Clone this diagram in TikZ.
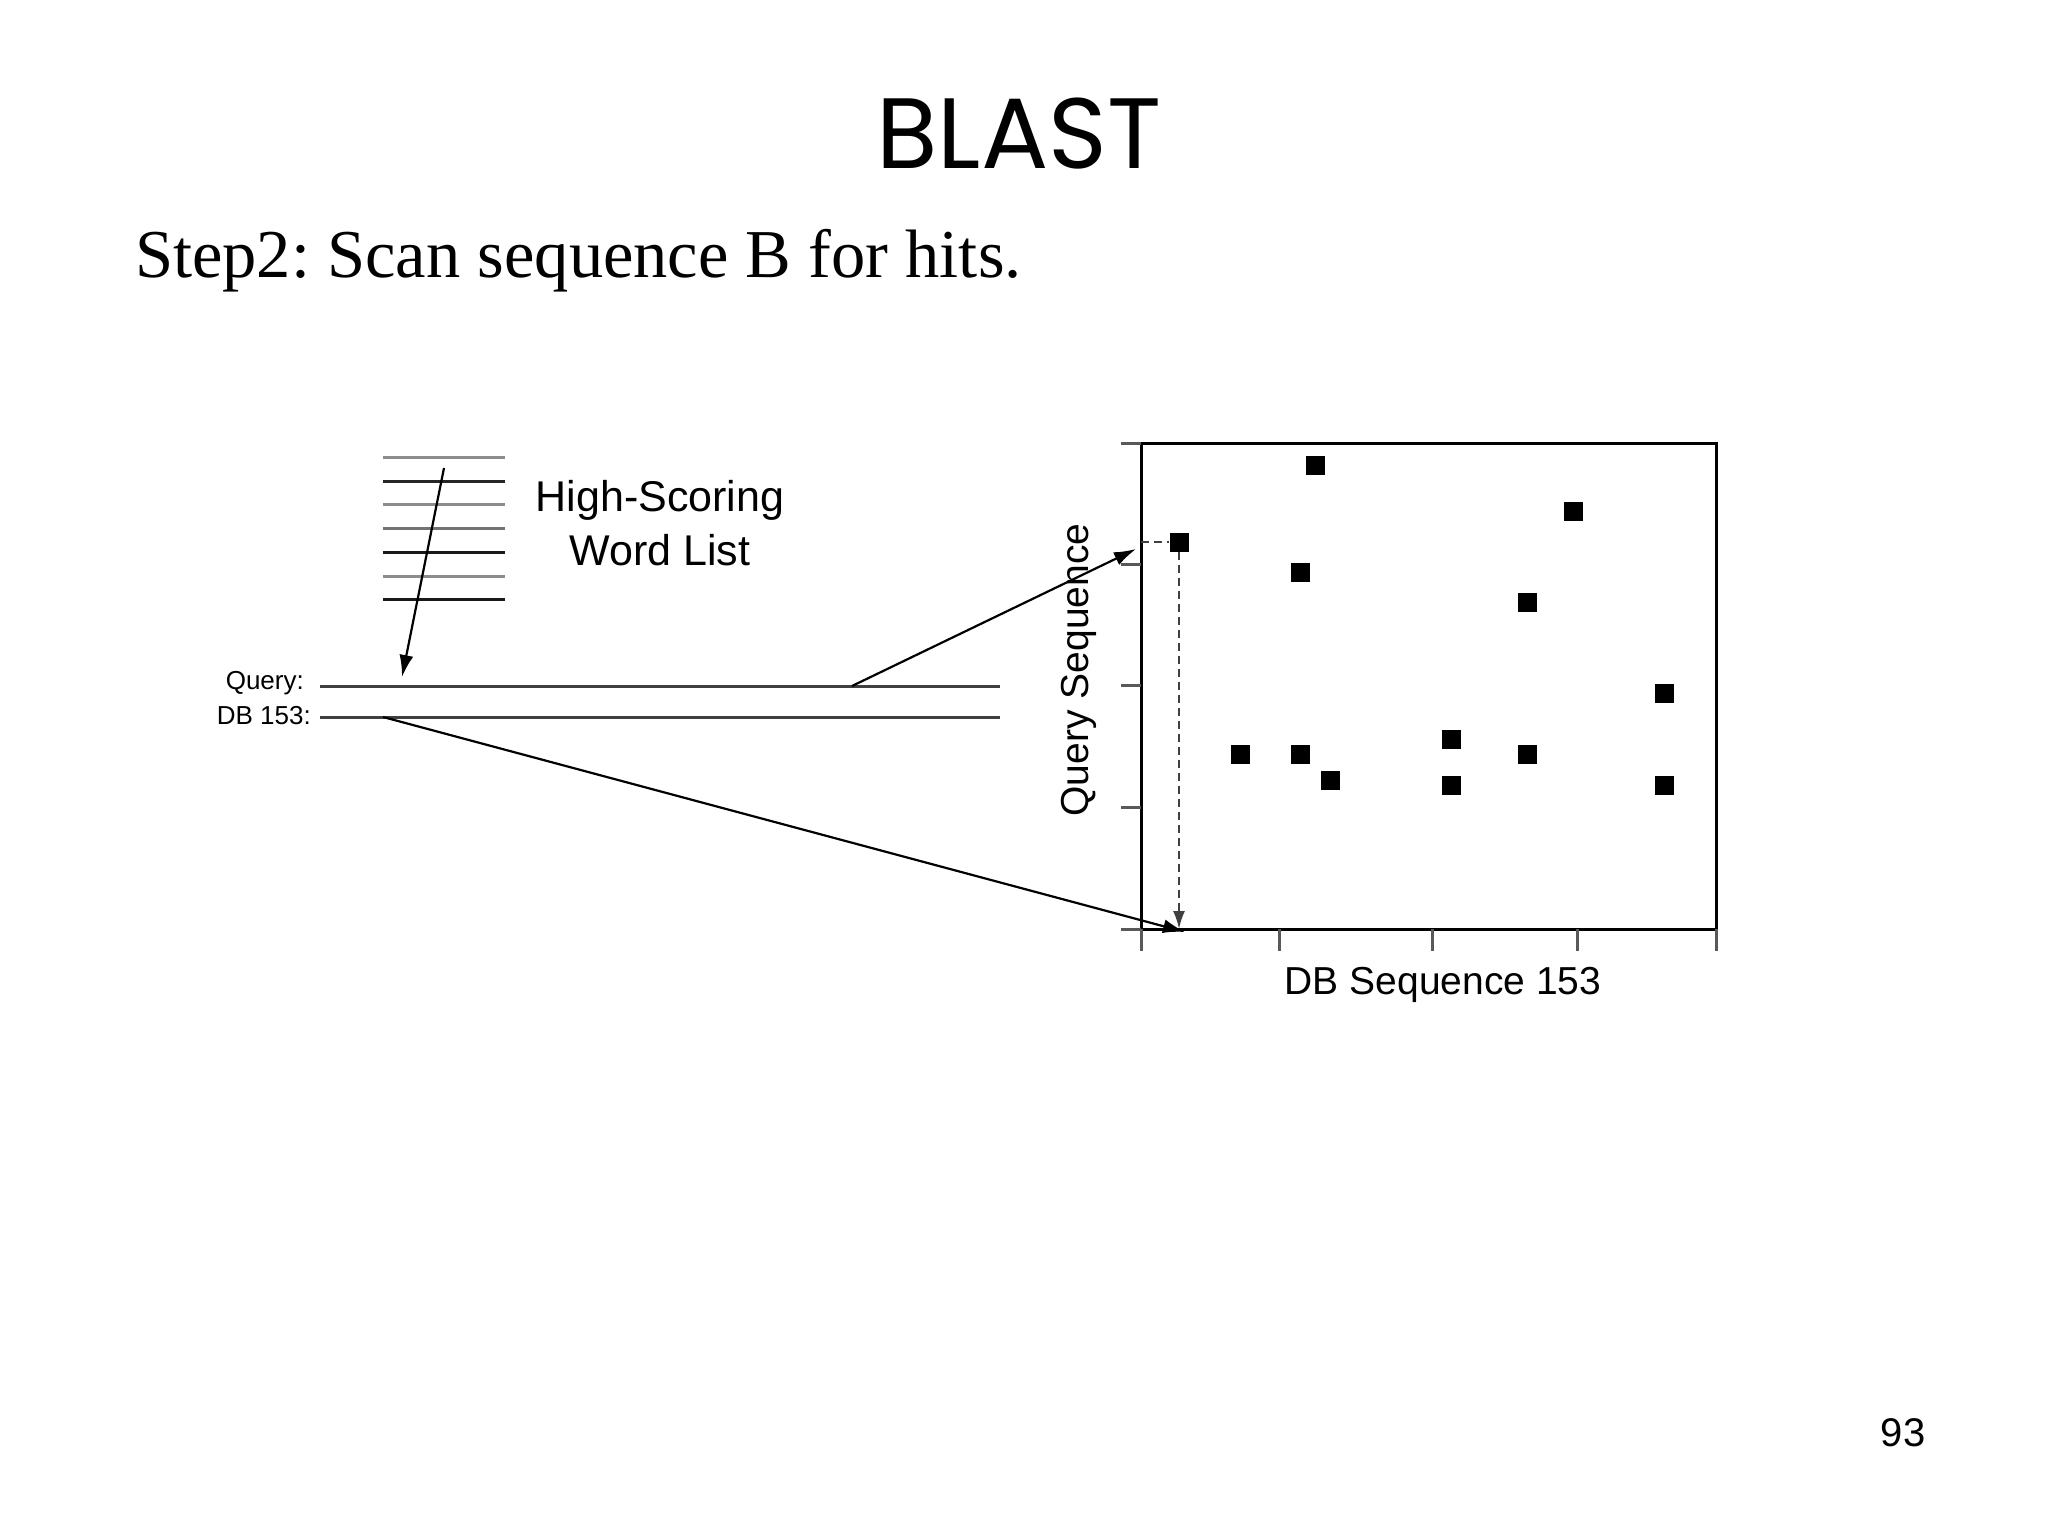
\documentclass[tikz,border=0pt]{standalone}
\usepackage{fontspec}
\setmainfont{Liberation Serif}
\newfontfamily\lsans{Liberation Sans}
\newfontfamily\ttl{Poppins}
\usetikzlibrary{arrows.meta}
\begin{document}
\frenchspacing
\begin{tikzpicture}[x=1pt,y=-1pt,
  wl/.style={line width=3pt},
  seq/.style={line width=3pt, black!75},
  arr/.style={line width=2.2pt,-{Latex[length=22pt,width=14pt]}},
  hit/.style={fill=black, minimum size=19pt, inner sep=0pt},
  tick/.style={line width=3pt, black!65},
  lab/.style={font=\lsans\fontsize{39}{46}\selectfont, inner sep=0pt}]
\useasboundingbox[fill=white] (0,0) rectangle (2048,1536);
\node[font=\ttl\fontsize{100}{110}\selectfont, inner sep=0pt] (title) at (1019,134) {BLAST};
\node[anchor=base west, font=\fontsize{68.5}{80}\selectfont, inner sep=0pt] (step) at (135,277) {Step2: Scan sequence B for hits.};
\node[font=\lsans\fontsize{40}{46}\selectfont, inner sep=0pt] (pn) at (1903,1433) {93};
% word list
\foreach \y/\c in {457/black!45,481/black!85,504/black!45,528/black!55,552/black!90,576/black!45,599/black!90}
  \draw[wl,\c] (383,\y) -- (505,\y);
\coordinate (wlt) at (444,468);
\node[lab, align=center, font=\lsans\fontsize{43}{54}\selectfont] (hs) at (660,523) {High-Scoring\\Word List};
% sequences
\coordinate (q0) at (320,686); \coordinate (q1) at (1000,686);
\coordinate (d0) at (320,717); \coordinate (d1) at (1000,717);
\draw[seq] (q0) -- (q1);
\draw[seq] (d0) -- (d1);
\node[anchor=east, font=\lsans\fontsize{26}{30}\selectfont, inner sep=0pt] (ql) at (304,683) {Query:};
\node[anchor=east, font=\lsans\fontsize{26}{30}\selectfont, inner sep=0pt] (dl) at (311,716) {DB 153:};
\coordinate (qa) at (402,677);
\draw[arr] (wlt) -- (qa);
% plot
\draw[line width=3pt] (1141,443) rectangle (1716,929);
\foreach \y in {443,564,685,807,929} \draw[tick] (1121,\y) -- (1141,\y);
\foreach \x in {1141,1279,1432,1577,1716} \draw[tick] (\x,929) -- (\x,951);
\foreach \x/\y [count=\i] in {1315/465,1573/511,1179/542,1300/572,1527/602,1664/693,1451/739,1240/754,1300/754,1527/754,1330/780,1451/785,1664/785}
  \node[hit] (h\i) at (\x,\y) {};
\node[lab, rotate=90] (ylab) at (1079,670) {Query Sequence};
\node[lab] (xlab) at (1443,985) {DB Sequence 153};
\coordinate (qs) at (852,686); \coordinate (qe) at (1136,549);
\coordinate (ds) at (383,717); \coordinate (de) at (1185,932);
\draw[arr] (qs) -- (qe);
\draw[arr] (ds) -- (de);
\coordinate (ya) at (1141,542); \coordinate (xa) at (1179,929);
\draw[line width=2.2pt, black!75, dash pattern=on 8pt off 5pt] (ya) -- (h3.west);
\draw[line width=2.2pt, black!75, dash pattern=on 8pt off 5pt, -{Latex[length=18pt,width=12pt]}] (h3.south) -- (xa);
\end{tikzpicture}
\end{document}
